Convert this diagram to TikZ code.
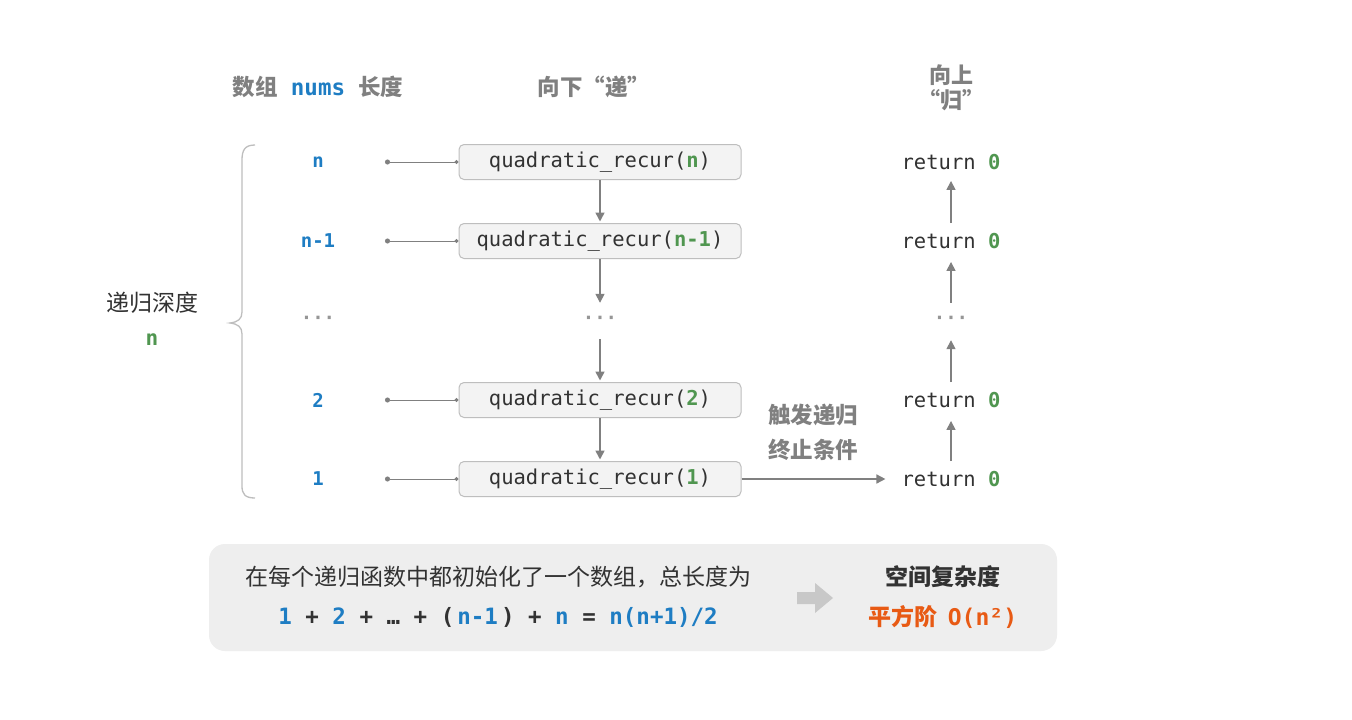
\documentclass[tikz,border=0pt]{standalone}
\usepackage{fontspec}
\setmainfont{Noto Sans CJK SC}
\setmonofont{DejaVu Sans Mono}
\newfontfamily\cjk{Noto Sans CJK SC}
\usetikzlibrary{arrows.meta}
\definecolor{cblue}{RGB}{30,125,195}
\definecolor{cgreen}{RGB}{80,150,80}
\definecolor{corange}{RGB}{232,90,20}
\definecolor{cgray}{RGB}{128,128,128}
\definecolor{ctext}{RGB}{50,50,50}
\definecolor{boxfill}{RGB}{243,243,243}
\definecolor{boxdraw}{RGB}{190,190,190}
\definecolor{panelfill}{RGB}{238,238,238}
\definecolor{bigarrow}{RGB}{200,200,200}
\definecolor{dotgray}{RGB}{150,150,150}
\tikzset{
  callbox/.style={draw=boxdraw, fill=boxfill, rounded corners=5pt, line width=1pt,
    minimum width=282pt, minimum height=35pt, inner sep=0pt,
    font=\ttfamily\fontsize{20.5}{24}\selectfont, text=ctext},
  retnode/.style={font=\ttfamily\fontsize{20.5}{24}\selectfont, text=ctext, inner sep=2pt},
  lenlabel/.style={font=\ttfamily\bfseries\fontsize{19}{22}\selectfont, text=cblue},
  dotsnode/.style={font=\ttfamily\bfseries\fontsize{19}{22}\selectfont, text=dotgray, minimum height=30pt, inner sep=0pt},
  head/.style={font=\bfseries\fontsize{22.5}{27}\selectfont, text=cgray, align=center},
  flow/.style={draw=cgray, line width=1.6pt, -{Triangle[length=9pt,width=9pt]}},
  conn/.style={draw=cgray, line width=1pt, {Circle[length=5pt]}-{Circle[length=4pt]}},
  brace/.style={draw=boxdraw, line width=1.3pt},
  bodytext/.style={font=\fontsize{23}{28}\selectfont, text=ctext},
}
\begin{document}
\begin{tikzpicture}[x=1pt,y=-1pt]
\useasboundingbox (0,0) rectangle (1352,720);
\fill[white] (0,0) rectangle (1352,720);

% headers
\node[head] (h1) at (318,87) {数组\hspace{13pt}{\ttfamily\bfseries\color{cblue}nums}\hspace{13pt}长度};
\node[head] (h2) at (594,87) {向下“递”};
\node[head, font=\bfseries\fontsize{22}{26}\selectfont] (h3) at (951,88) {向上\\[-1pt]“归”};

% left length labels
\node[lenlabel] (l1) at (318,162) {n};
\node[lenlabel] (l2) at (318,241) {n-1};
\node[dotsnode] (l3) at (318,320) {···};
\node[lenlabel] (l4) at (318,400) {2};
\node[lenlabel] (l5) at (318,479) {1};

% call boxes
\node[callbox] (b1) at (600,162) {quadratic\_recur({\bfseries\color{cgreen}n})};
\node[callbox] (b2) at (600,241) {quadratic\_recur({\bfseries\color{cgreen}n-1})};
\node[dotsnode] (b3) at (600,320) {···};
\node[callbox] (b4) at (600,400) {quadratic\_recur({\bfseries\color{cgreen}2})};
\node[callbox] (b5) at (600,479) {quadratic\_recur({\bfseries\color{cgreen}1})};

% connector start points
\coordinate (c1) at (385,162);
\coordinate (c2) at (385,241);
\coordinate (c4) at (385,400);
\coordinate (c5) at (385,479);
\draw[conn] (c1) -- (b1.west);
\draw[conn] (c2) -- (b2.west);
\draw[conn] (c4) -- (b4.west);
\draw[conn] (c5) -- (b5.west);

% down arrows
\draw[flow] (b1.south) -- ([yshift=1.5pt]b2.north);
\draw[flow] (b2.south) -- ([yshift=2pt]b3.north);
\draw[flow] ([yshift=-4pt]b3.south) -- ([yshift=1.5pt]b4.north);
\draw[flow] (b4.south) -- ([yshift=1.5pt]b5.north);

% returns
\node[retnode] (r1) at (951,162) {return {\bfseries\color{cgreen}0}};
\node[retnode] (r2) at (951,241) {return {\bfseries\color{cgreen}0}};
\node[dotsnode] (r3) at (951,320) {···};
\node[retnode] (r4) at (951,400) {return {\bfseries\color{cgreen}0}};
\node[retnode] (r5) at (951,479) {return {\bfseries\color{cgreen}0}};

\draw[flow] ([yshift=8pt]r2.north) -- ([yshift=-9pt]r1.south);
\draw[flow] ([yshift=2pt]r3.north) -- ([yshift=-11pt]r2.south);
\draw[flow] ([yshift=8pt]r4.north) -- ([yshift=-5pt]r3.south);
\draw[flow] ([yshift=8pt]r5.north) -- ([yshift=-11pt]r4.south);

\draw[flow] (b5.east) -- ([xshift=-14pt]r5.west);
\node[head, font=\bfseries\fontsize{22.5}{35}\selectfont] (trig) at (813,432) {触发递归\\终止条件};

% brace
\draw[brace] (255,145) .. controls (245,145) and (242,150) .. (242,160)
  -- (242,312) .. controls (242,319) and (238,322) .. (230,323)
  .. controls (238,324) and (242,327) .. (242,334)
  -- (242,486) .. controls (242,494) and (245,498) .. (255,498);
\node[bodytext] (depth) at (152,303) {递归深度};
\node[font=\ttfamily\bfseries\fontsize{21}{26}\selectfont, text=cgreen] (depthn) at (152,340) {n};

% bottom panel
\fill[panelfill, rounded corners=16pt] (209,544) rectangle (1057,651);
\node[bodytext] (sum1) at (498,577) {在每个递归函数中都初始化了一个数组，总长度为};
\node[font=\ttfamily\bfseries\fontsize{22.5}{26}\selectfont, text=ctext] (sum2) at (498,617)
  {{\color{cblue}1} + {\color{cblue}2} + … + (\hspace{3pt}{\color{cblue}n-1}\hspace{3pt}) + {\color{cblue}n} = {\color{cblue}n(n+1)/2}};
\fill[bigarrow] (797,592) -- (815,592) -- (815,583) -- (833,598) -- (815,613) -- (815,604) -- (797,604) -- cycle;
\node[bodytext, font=\bfseries\fontsize{23}{28}\selectfont] (sc1) at (943,577) {空间复杂度};
\node[font=\bfseries\fontsize{23}{28}\selectfont, text=corange] (sc2) at (943,617) {平方阶\hspace{10pt}{\ttfamily O(n²)}};
\end{tikzpicture}
\end{document}
